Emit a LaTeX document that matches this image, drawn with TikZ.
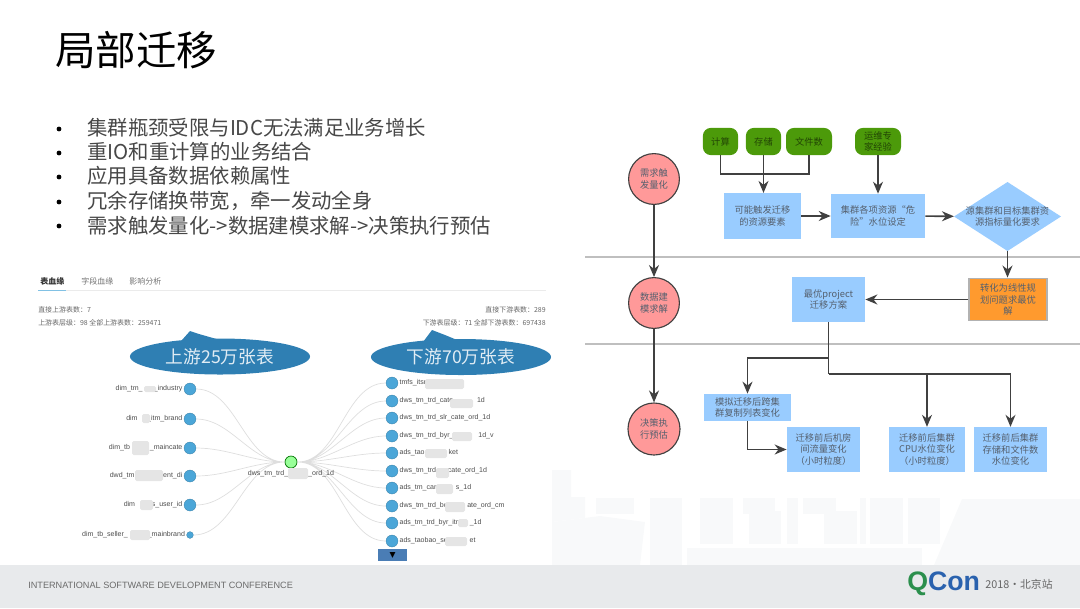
\documentclass[tikz,border=0pt]{standalone}
\usepackage{fontspec}
\setmainfont{Noto Sans CJK SC}
\newfontfamily\latinfont{Liberation Sans}
\newfontfamily\symfont{DejaVu Sans}
\usetikzlibrary{arrows.meta, positioning, shapes.geometric}
\definecolor{flowblue}{HTML}{99CCFF}
\definecolor{flowgreen}{HTML}{4C9A0A}
\definecolor{flowpink}{HTML}{FF9999}
\definecolor{floworange}{HTML}{FF9A2E}
\definecolor{flowink}{HTML}{404040}
\definecolor{flowtext}{HTML}{55606E}
\definecolor{leafblue}{HTML}{4BA6D8}
\definecolor{bubble}{HTML}{2F7FB3}
\definecolor{footbar}{HTML}{E8EAEC}
\definecolor{citybg}{HTML}{F8F9FA}
\definecolor{logogreen}{HTML}{2B8F4D}
\definecolor{logoblue}{HTML}{2A62AE}
\definecolor{morebtn}{HTML}{4A7DB5}

\begin{document}
\begin{tikzpicture}[>=Stealth, x=0.025cm, y=-0.025cm, node distance=0.03cm,
  bullettext/.style={anchor=west, inner sep=0pt, text=black!72, font=\fontsize{14.5}{16}\selectfont},
  bulletdot/.style={circle, fill=black, inner sep=0pt, minimum size=0.12cm},
  flownode/.style={inner sep=0pt, align=center, text=flowtext, font=\fontsize{6.6}{8}\selectfont},
  bluebox/.style={flownode, rectangle, fill=flowblue},
  srcbox/.style={flownode, rectangle, rounded corners=0.2cm, fill=flowgreen, text=black!55!flowgreen, minimum height=0.68cm},
  stagenode/.style={flownode, circle, fill=flowpink, draw=flowink, line width=0.8pt, minimum size=1.27cm},
  flowline/.style={draw=flowink, line width=1.1pt, -{Stealth[length=0.3cm, width=0.25cm]}},
  elbow/.style={draw=flowink, line width=1.1pt},
  band/.style={draw=black!25, line width=0.8pt},
  leaf/.style={circle, fill=leafblue, draw=leafblue!75!black, line width=0.2pt, inner sep=0pt, minimum size=0.3cm},
  leaftext/.style={inner sep=0pt, text=black!70, font=\latinfont\fontsize{5}{6}\selectfont},
  infotext/.style={inner sep=0pt, text=black!60, font=\fontsize{4.95}{6}\selectfont},
  tabtext/.style={inner sep=0pt, text=black!55, font=\fontsize{5.7}{7}\selectfont},
  lineage/.style={draw=black!13, line width=0.5pt},
  blurpatch/.style={fill=black!10, rounded corners=0.04cm},
  bubbletext/.style={ellipse, fill=bubble, inner sep=0pt, minimum width=4.5cm, minimum height=0.9cm, text=white!85!bubble, font=\fontsize{12.6}{14}\selectfont},
  cityblock/.style={fill=citybg}]
  \useasboundingbox (0,0) rectangle (1080,608);

  % backdrop
  \fill[cityblock] (552,470) -- (571,470) -- (571,497) -- (585,497) -- (585,518) -- (552,522) -- cycle;
  \fill[cityblock] (552,522) -- (600,516) -- (645,522) -- (640,565) -- (552,565) -- cycle;
  \fill[cityblock] (596,498) rectangle (634,514);
  \fill[cityblock] (650,498) rectangle (682,565);
  \fill[cityblock] (700,498) rectangle (733,544);
  \fill[cityblock] (743,498) rectangle (775,514);
  \fill[cityblock] (749,511) rectangle (781,544);
  \fill[cityblock] (787,498) rectangle (798,544);
  \fill[cityblock] (803,498) rectangle (836,514);
  \fill[cityblock] (824,511) rectangle (857,544);
  \fill[cityblock] (860,498) rectangle (866,544);
  \fill[cityblock] (870,498) rectangle (903,544);
  \fill[cityblock] (908,498) rectangle (940,544);
  \fill[cityblock] (687,548) rectangle (922,565);
  \fill[cityblock] (962,499) -- (1080,499) -- (1080,565) -- (934,565) -- cycle;
  \fill[footbar] (0,565) rectangle (1080,608);

  % title and bullets
  \node[inner sep=0pt, anchor=west, font=\fontsize{28.8}{32}\selectfont] (title) at (55,50) {局部迁移};
  \node[bulletdot] (dot1) at (59,129) {};
  \node[bulletdot] (dot2) at (59,153) {};
  \node[bulletdot] (dot3) at (59,177) {};
  \node[bulletdot] (dot4) at (59,202) {};
  \node[bulletdot] (dot5) at (59,226) {};
  \node[bullettext] (line1) at (87,128) {集群瓶颈受限与IDC无法满足业务增长};
  \node[bullettext] (line2) at (87,152) {重IO和重计算的业务结合};
  \node[bullettext] (line3) at (87,176) {应用具备数据依赖属性};
  \node[bullettext] (line4) at (87,201) {冗余存储换带宽，牵一发动全身};
  \node[bullettext] (line5) at (87,226) {需求触发量化->数据建模求解->决策执行预估};

  % lineage panel
  \node[tabtext, anchor=west, font=\bfseries\fontsize{5.7}{7}\selectfont, text=black!80] (tab1) at (40,281) {表血缘};
  \node[tabtext, anchor=west] (tab2) at (81,281) {字段血缘};
  \node[tabtext, anchor=west] (tab3) at (129,281) {影响分析};
  \draw[black!8, line width=0.7pt] (38,290.5) -- (546,290.5);
  \draw[leafblue!70, line width=0.7pt] (38,290.5) -- (66,290.5);
  \node[infotext, anchor=west] (upa) at (38,310) {直接上游表数：7};
  \node[infotext, anchor=west] (upb) at (38,323) {上游表层级：98 全部上游表数：259471};
  \node[infotext, anchor=east] (downa) at (546,310) {直接下游表数：289};
  \node[infotext, anchor=east] (downb) at (546,323) {下游表层级：71 全部下游表数：697438};

  \fill[bubble] (182,340) -- (190,331) -- (199,334) -- (220,340) -- cycle;
  \fill[bubble] (423,342) -- (432,330) -- (445,335) -- (462,342) -- cycle;
  \node[bubbletext] (upstream) at (220,356.5) {上游25万张表};
  \node[bubbletext] (downstream) at (461,357) {下游70万张表};

  \node[leaf, fill=green!40!white, draw=green!45!black, line width=0.5pt] (hub) at (291,462) {};
  \node[leaf] (la) at (190,389) {};
  \node[leaf] (lb) at (190,419) {};
  \node[leaf] (lc) at (190,448) {};
  \node[leaf] (ld) at (190,476) {};
  \node[leaf] (le) at (190,505) {};
  \node[leaf, minimum size=0.17cm] (lf) at (190,535) {};
  \node[leaf] (ra) at (392,383) {};
  \node[leaf] (rb) at (392,401) {};
  \node[leaf] (rc) at (392,418) {};
  \node[leaf] (rd) at (392,436) {};
  \node[leaf] (re) at (392,453) {};
  \node[leaf] (rf) at (392,471) {};
  \node[leaf] (rg) at (392,488) {};
  \node[leaf] (rh) at (392,506) {};
  \node[leaf] (ri) at (392,523) {};
  \node[leaf] (rj) at (392,541) {};

  \draw[lineage] (la.east) to[out=0, in=180, looseness=0.9] (hub.west)
    (lb.east) to[out=0, in=180, looseness=0.9] (hub.west)
    (lc.east) to[out=0, in=180, looseness=0.9] (hub.west)
    (ld.east) to[out=0, in=180, looseness=0.9] (hub.west)
    (le.east) to[out=0, in=180, looseness=0.9] (hub.west)
    (lf.east) to[out=0, in=180, looseness=0.9] (hub.west);
  \draw[lineage] (hub.east) to[out=0, in=180, looseness=0.9] (ra.west)
    (hub.east) to[out=0, in=180, looseness=0.9] (rb.west)
    (hub.east) to[out=0, in=180, looseness=0.9] (rc.west)
    (hub.east) to[out=0, in=180, looseness=0.9] (rd.west)
    (hub.east) to[out=0, in=180, looseness=0.9] (re.west)
    (hub.east) to[out=0, in=180, looseness=0.9] (rf.west)
    (hub.east) to[out=0, in=180, looseness=0.9] (rg.west)
    (hub.east) to[out=0, in=180, looseness=0.9] (rh.west)
    (hub.east) to[out=0, in=180, looseness=0.9] (ri.west)
    (hub.east) to[out=0, in=180, looseness=0.9] (rj.west);

  \node[leaftext, left=of la] (latext) {dim\_tm\_\hspace{0.28cm}\_industry};
  \node[leaftext, left=of lb] (lbtext) {dim\hspace{0.24cm}\_itm\_brand};
  \node[leaftext, left=of lc] (lctext) {dim\_tb\hspace{0.5cm}\_maincate};
  \node[leaftext, left=of ld] (ldtext) {dwd\_tm\hspace{0.72cm}ent\_di};
  \node[leaftext, left=of le] (letext) {dim\hspace{0.42cm}s\_user\_id};
  \node[leaftext, left=of lf] (lftext) {dim\_tb\_seller\_\hspace{0.5cm}\_mainbrand};
  \node[leaftext, anchor=north] (hubtext) at (291,470) {dws\_tm\_trd\_\hspace{0.5cm}\_ord\_1d};
  \node[leaftext, right=of ra] (ratext) {tmfs\_itsr};
  \node[leaftext, right=of rb] (rbtext) {dws\_tm\_trd\_cate\_\hspace{0.5cm}1d};
  \node[leaftext, right=of rc] (rctext) {dws\_tm\_trd\_slr\_cate\_ord\_1d};
  \node[leaftext, right=of rd] (rdtext) {dws\_tm\_trd\_byr\_\hspace{0.62cm}1d\_v};
  \node[leaftext, right=of re] (retext) {ads\_tao\hspace{0.6cm}ket};
  \node[leaftext, right=of rf] (rftext) {dws\_tm\_trd\hspace{0.3cm}cate\_ord\_1d};
  \node[leaftext, right=of rg] (rgtext) {ads\_tm\_can\hspace{0.45cm}s\_1d};
  \node[leaftext, right=of rh] (rhtext) {dws\_tm\_trd\_bc\hspace{0.5cm}ate\_ord\_cm};
  \node[leaftext, right=of ri] (ritext) {ads\_tm\_trd\_byr\_itn\hspace{0.25cm}\_1d};
  \node[leaftext, right=of rj] (rjtext) {ads\_taobao\_se\hspace{0.55cm}et};

  % smudges over the table names
  \fill[blurpatch] (144,386) rectangle (156,392);
  \fill[blurpatch] (142,414) rectangle (150,423);
  \fill[blurpatch] (132,441) rectangle (149,455);
  \fill[blurpatch] (135,470) rectangle (163,481);
  \fill[blurpatch] (140,500) rectangle (153,510);
  \fill[blurpatch] (130,530) rectangle (150,540);
  \fill[blurpatch] (288,468) rectangle (308,479);
  \fill[blurpatch] (425,379) rectangle (464,389);
  \fill[blurpatch] (450,399) rectangle (473,408);
  \fill[blurpatch] (452,432) rectangle (472,441);
  \fill[blurpatch] (425,449) rectangle (447,458);
  \fill[blurpatch] (436,468) rectangle (449,478);
  \fill[blurpatch] (436,484) rectangle (453,494);
  \fill[blurpatch] (445,502) rectangle (465,512);
  \fill[blurpatch] (458,519) rectangle (468,527);
  \fill[blurpatch] (445,537) rectangle (467,546);

  \node[fill=morebtn, inner sep=0pt, minimum width=0.72cm, minimum height=0.3cm, font=\symfont\fontsize{5.5}{6}\selectfont] (more) at (392.5,555) {▼};

  % swimlane rules
  \draw[band] (585,257) -- (1080,257);
  \draw[band] (585,344) -- (1080,344);

  % flow nodes
  \node[stagenode] (need) at (654,179) {需求触\\发量化};
  \node[stagenode] (model) at (654,303) {数据建\\模求解};
  \node[stagenode, minimum size=1.3cm] (decide) at (654,429) {决策执\\行预估};
  \node[srcbox, minimum width=0.88cm] (calc) at (720.5,141.5) {计算};
  \node[srcbox, minimum width=0.88cm] (store) at (763.5,141.5) {存储};
  \node[srcbox, minimum width=1.15cm] (files) at (809,141.5) {文件数};
  \node[srcbox, minimum width=1.15cm] (ops) at (878,141.5) {运维专\\家经验};
  \node[bluebox, minimum width=1.93cm, minimum height=1.14cm] (trigger) at (762.5,216) {可能触发迁移\\的资源要素};
  \node[bluebox, minimum width=2.35cm, minimum height=1.1cm] (level) at (878,216) {集群各项资源“危\\险”水位设定};
  \node[flownode, diamond, fill=flowblue, minimum width=2.68cm, minimum height=1.73cm] (quant) at (1007.5,216.5) {};
  \node[flownode] (quanttext) at (1007.5,216.5) {源集群和目标集群资\\源指标量化要求};
  \node[bluebox, fill=floworange, draw=black!30, line width=0.8pt, minimum width=1.95cm, minimum height=1.07cm] (solve) at (1008,299.5) {转化为线性规\\划问题求最优\\解};
  \node[bluebox, minimum width=1.83cm, minimum height=1.12cm] (plan) at (828.5,299.5) {最优project\\迁移方案};
  \node[bluebox, minimum width=2.18cm, minimum height=0.68cm] (replica) at (747.5,407.5) {模拟迁移后跨集\\群复制列表变化};
  \node[bluebox, minimum width=1.83cm, minimum height=1.12cm] (room) at (823.5,449.5) {迁移前后机房\\间流量变化\\（小时粒度）};
  \node[bluebox, minimum width=1.9cm, minimum height=1.12cm] (cpu) at (927,449.5) {迁移前后集群\\CPU水位变化\\（小时粒度）};
  \node[bluebox, minimum width=1.83cm, minimum height=1.12cm] (disk) at (1010.5,449.5) {迁移前后集群\\存储和文件数\\水位变化};

  % flow connectors
  \draw[flowline] (need) -- (model);
  \draw[flowline] (model) -- (decide);
  \draw[elbow] (calc.south) |- (files.south |- 0,174) -- (files.south);
  \draw[flowline] (store) -- (store |- trigger.north);
  \draw[flowline] (ops) -- (level.north);
  \draw[flowline] (trigger) -- (level);
  \draw[flowline] (level) -- (quant);
  \draw[flowline] (quant) -- (quant |- solve.north);
  \draw[flowline] (solve) -- (plan);
  \coordinate (forka) at (plan.south |- 0,358);
  \coordinate (forkb) at (plan.south |- 0,374);
  \draw[elbow] (plan.south) -- (forkb);
  \draw[flowline] (forka) -| (replica.north);
  \draw[flowline] (forkb) -| (cpu.north);
  \draw[flowline] (forkb) -| (disk.north);
  \draw[flowline] (replica.south) |- (room.west);

  % footer
  \node[inner sep=0pt, anchor=west, text=black!58, font=\latinfont\fontsize{6.5}{8}\selectfont] (conf) at (28,585.5) {INTERNATIONAL SOFTWARE DEVELOPMENT CONFERENCE};
  \node[inner sep=0pt, anchor=west, font=\latinfont\bfseries\fontsize{19}{22}\selectfont] (logo) at (907,584) {\textcolor{logogreen}{Q}\textcolor{logoblue}{Con}};
  \node[inner sep=0pt, anchor=west, text=black!60, font=\fontsize{7.7}{10}\selectfont] (place) at (985,584) {2018·北京站};
\end{tikzpicture}
\end{document}
